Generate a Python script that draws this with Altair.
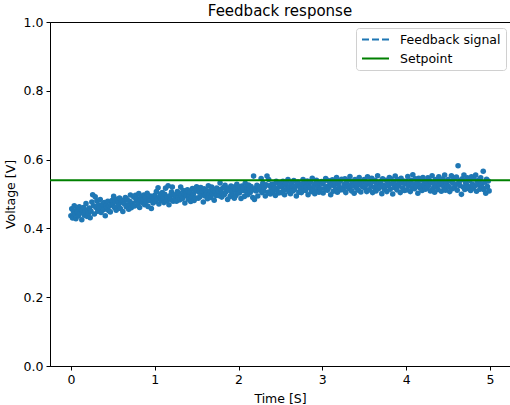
import altair as alt
import pandas as pd

# Sampled feedback voltage, one row per 0.25 s (25 samples at 10 ms spacing)
signal_rows = [
    [0.437, 0.457, 0.430, 0.449, 0.466, 0.442, 0.428, 0.455, 0.447, 0.436, 0.463, 0.445, 0.454, 0.425, 0.452, 0.461, 0.438, 0.448, 0.472, 0.435, 0.454, 0.443, 0.459, 0.431, 0.450],
    [0.477, 0.498, 0.466, 0.442, 0.492, 0.461, 0.480, 0.450, 0.469, 0.459, 0.484, 0.446, 0.462, 0.471, 0.454, 0.475, 0.437, 0.467, 0.458, 0.479, 0.452, 0.465, 0.448, 0.470, 0.481],
    [0.469, 0.493, 0.461, 0.478, 0.453, 0.485, 0.474, 0.465, 0.488, 0.458, 0.476, 0.482, 0.449, 0.480, 0.471, 0.490, 0.463, 0.484, 0.467, 0.456, 0.479, 0.497, 0.460, 0.473, 0.466],
    [0.491, 0.465, 0.496, 0.480, 0.487, 0.472, 0.501, 0.461, 0.482, 0.493, 0.475, 0.485, 0.497, 0.469, 0.490, 0.478, 0.502, 0.464, 0.488, 0.481, 0.494, 0.458, 0.492, 0.474, 0.486],
    [0.496, 0.478, 0.507, 0.485, 0.518, 0.471, 0.493, 0.500, 0.482, 0.504, 0.488, 0.475, 0.499, 0.517, 0.480, 0.491, 0.524, 0.469, 0.495, 0.484, 0.506, 0.520, 0.479, 0.497, 0.487],
    [0.498, 0.479, 0.507, 0.491, 0.502, 0.483, 0.520, 0.496, 0.487, 0.510, 0.501, 0.474, 0.503, 0.494, 0.512, 0.485, 0.497, 0.505, 0.478, 0.492, 0.516, 0.499, 0.481, 0.508, 0.488],
    [0.521, 0.510, 0.488, 0.505, 0.492, 0.519, 0.498, 0.507, 0.477, 0.515, 0.494, 0.511, 0.502, 0.486, 0.524, 0.499, 0.509, 0.490, 0.520, 0.501, 0.512, 0.482, 0.506, 0.496, 0.517],
    [0.501, 0.508, 0.495, 0.532, 0.514, 0.491, 0.502, 0.519, 0.498, 0.525, 0.506, 0.515, 0.484, 0.517, 0.511, 0.493, 0.523, 0.500, 0.509, 0.520, 0.488, 0.513, 0.496, 0.528, 0.504],
    [0.515, 0.503, 0.521, 0.487, 0.523, 0.510, 0.517, 0.493, 0.531, 0.507, 0.519, 0.498, 0.526, 0.514, 0.504, 0.522, 0.511, 0.490, 0.552, 0.484, 0.516, 0.509, 0.525, 0.494, 0.520],
    [0.512, 0.522, 0.545, 0.504, 0.531, 0.509, 0.520, 0.494, 0.527, 0.552, 0.505, 0.542, 0.524, 0.500, 0.513, 0.529, 0.507, 0.525, 0.518, 0.496, 0.537, 0.510, 0.532, 0.503, 0.521],
    [0.529, 0.504, 0.520, 0.537, 0.511, 0.498, 0.526, 0.533, 0.515, 0.542, 0.507, 0.522, 0.501, 0.531, 0.518, 0.509, 0.539, 0.513, 0.524, 0.494, 0.528, 0.535, 0.505, 0.521, 0.517],
    [0.504, 0.529, 0.542, 0.516, 0.533, 0.510, 0.521, 0.538, 0.498, 0.526, 0.518, 0.535, 0.507, 0.546, 0.513, 0.524, 0.501, 0.531, 0.540, 0.511, 0.520, 0.505, 0.532, 0.515, 0.536],
    [0.530, 0.503, 0.536, 0.516, 0.545, 0.522, 0.511, 0.539, 0.519, 0.532, 0.498, 0.527, 0.541, 0.508, 0.524, 0.534, 0.514, 0.548, 0.505, 0.529, 0.520, 0.537, 0.512, 0.543, 0.517],
    [0.512, 0.528, 0.544, 0.504, 0.533, 0.520, 0.540, 0.515, 0.551, 0.525, 0.509, 0.536, 0.523, 0.502, 0.542, 0.530, 0.517, 0.538, 0.511, 0.548, 0.527, 0.506, 0.534, 0.521, 0.537],
    [0.542, 0.517, 0.527, 0.507, 0.550, 0.534, 0.512, 0.530, 0.523, 0.546, 0.504, 0.536, 0.519, 0.540, 0.509, 0.528, 0.553, 0.515, 0.532, 0.521, 0.538, 0.501, 0.544, 0.525, 0.514],
    [0.521, 0.540, 0.507, 0.534, 0.525, 0.548, 0.514, 0.544, 0.530, 0.500, 0.536, 0.519, 0.552, 0.527, 0.512, 0.542, 0.523, 0.535, 0.504, 0.546, 0.532, 0.517, 0.538, 0.510, 0.529],
    [0.537, 0.512, 0.551, 0.524, 0.533, 0.507, 0.540, 0.518, 0.556, 0.529, 0.515, 0.544, 0.521, 0.535, 0.502, 0.546, 0.527, 0.517, 0.541, 0.510, 0.548, 0.525, 0.532, 0.514, 0.538],
    [0.518, 0.547, 0.525, 0.539, 0.509, 0.534, 0.553, 0.516, 0.530, 0.505, 0.542, 0.522, 0.536, 0.513, 0.550, 0.526, 0.538, 0.508, 0.531, 0.544, 0.520, 0.555, 0.511, 0.533, 0.523],
    [0.542, 0.522, 0.507, 0.537, 0.553, 0.515, 0.531, 0.546, 0.518, 0.528, 0.549, 0.511, 0.582, 0.535, 0.525, 0.540, 0.499, 0.544, 0.520, 0.555, 0.513, 0.533, 0.527, 0.547, 0.516],
    [0.521, 0.539, 0.510, 0.550, 0.529, 0.517, 0.544, 0.524, 0.555, 0.508, 0.536, 0.527, 0.541, 0.514, 0.547, 0.530, 0.519, 0.566, 0.512, 0.534, 0.502, 0.543, 0.522, 0.538, 0.509],
]
sample_step = 0.01   # seconds between samples
setpoint = 0.54      # target voltage

series_names = ["Feedback signal", "Setpoint"]
series_colors = ["#1f77b4", "#008000"]
series_dashes = [[7, 3], [1, 0]]

x_ticks = [0, 1, 2, 3, 4, 5]
y_ticks = [0.0, 0.2, 0.4, 0.6, 0.8, 1.0]

values = [v for row in signal_rows for v in row]
signal = pd.DataFrame({
    "t": [round(i * sample_step, 2) for i in range(len(values))],
    "v": values,
})
target = pd.DataFrame({"series": ["Setpoint"], "v": [setpoint]})

FONT = "DejaVu Sans"

x_enc = alt.X(
    "t:Q",
    title="Time [S]",
    scale=alt.Scale(domain=[-0.2495, 5.2395], nice=False, zero=False),
    axis=alt.Axis(values=x_ticks, format="d"),
)
y_enc = alt.Y(
    "v:Q",
    title="Voltage [V]",
    scale=alt.Scale(domain=[0, 1], nice=False),
    axis=alt.Axis(values=y_ticks, format=".1f"),
)

points = alt.Chart(signal).mark_circle(
    size=31, opacity=1, color="#1f77b4"
).encode(x=x_enc, y=y_enc)

legend = alt.Legend(
    title=None,
    orient="none",
    legendX=306,
    legendY=6,
    symbolType="stroke",
    symbolSize=729,
    symbolStrokeWidth=2,
    labelFont=FONT,
    labelFontSize=12.5,
    labelColor="black",
    labelOffset=10,
    strokeColor="#d0d0d0",
    fillColor="white",
    cornerRadius=3,
    padding=5,
    clipHeight=13,
    rowPadding=6,
)

rule = alt.Chart(target).mark_rule(strokeWidth=1.8).encode(
    y=alt.Y("v:Q"),
    color=alt.Color(
        "series:N",
        scale=alt.Scale(domain=series_names, range=series_colors),
        legend=legend,
    ),
    strokeDash=alt.StrokeDash(
        "series:N",
        scale=alt.Scale(domain=series_names, range=series_dashes),
        legend=legend,
    ),
)

chart = (
    alt.layer(points, rule)
    .properties(
        width=460,
        height=344,
        autosize=alt.AutoSizeParams(type="none"),
        padding={"left": 50, "top": 22, "right": 0, "bottom": 39},
        title=alt.TitleParams(
            "Feedback response",
            font=FONT,
            fontSize=15,
            fontWeight="normal",
            color="black",
            offset=6,
            dy=9,
        ),
    )
    .configure_view(stroke="black", strokeWidth=1)
    .configure_axis(
        grid=False,
        domainColor="black",
        domainWidth=1,
        tickColor="black",
        tickWidth=1,
        tickSize=4,
        labelFont=FONT,
        labelFontSize=12.5,
        labelColor="black",
        labelPadding=3,
        titleFont=FONT,
        titleFontSize=12.5,
        titleFontWeight="normal",
        titleColor="black",
    )
    .configure_axisX(titlePadding=7)
    .configure_axisY(titlePadding=6)
)

chart.save("out.html", embed_options={"renderer": "svg", "actions": False})
